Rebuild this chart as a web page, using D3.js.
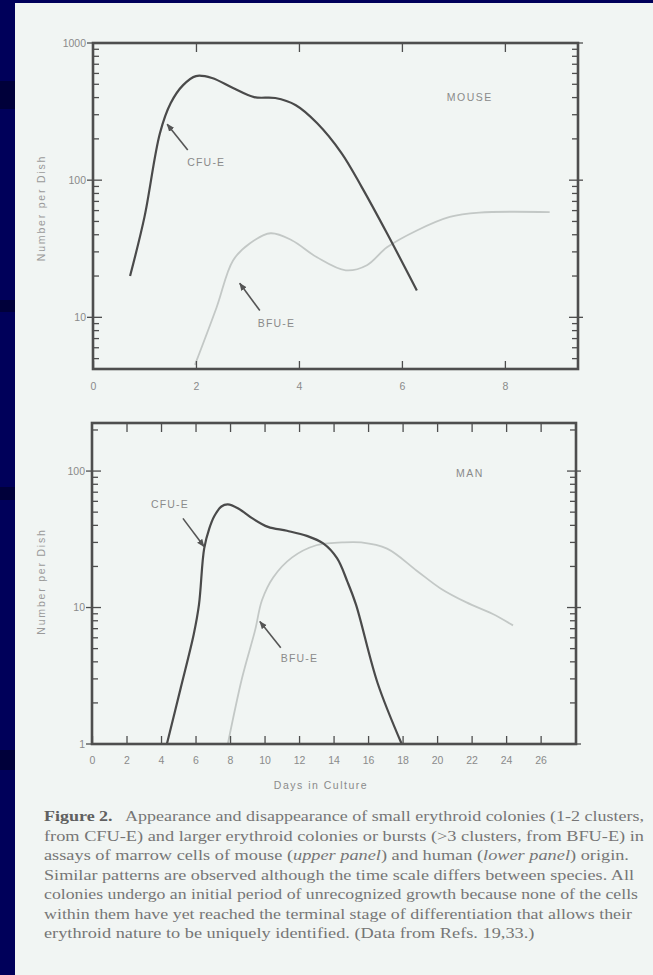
<!DOCTYPE html>
<html><head><meta charset="utf-8">
<script src="https://cdn.jsdelivr.net/npm/d3@7"></script>
<style>html,body{margin:0;padding:0;background:#00005a;}svg{display:block}</style>
</head><body>
<script>
// ---------- data ----------
const mouseXTicks = [0, 2, 4, 6, 8];
const mouseYTicks = [10, 100, 1000];
const mouseCfuDays   = [0.72, 1.0, 1.3, 1.51, 1.75, 2.0, 2.31, 2.72, 3.13, 3.54, 3.94, 4.35, 4.83, 5.22, 5.71, 6.29];
const mouseCfuValues = [20, 54, 220, 365, 493, 574, 556, 470, 403, 397, 352, 261, 157, 89, 41, 15.7];
const mouseBfuDays   = [1.98, 2.4, 2.72, 3.05, 3.45, 3.86, 4.35, 4.91, 5.32, 5.71, 6.29, 6.93, 7.5, 8.87];
const mouseBfuValues = [4.5, 11.8, 26, 34.7, 41, 36.5, 27.4, 22, 24, 32.4, 43, 54, 58, 58.5];

const manXTicks = [0, 2, 4, 6, 8, 10, 12, 14, 16, 18, 20, 22, 24, 26];
const manYTicks = [1, 10, 100];
const manCfuDays   = [4.34, 5.15, 5.9, 6.2, 6.5, 6.8, 7.1, 7.5, 7.87, 8.5, 9.3, 10.2, 11.3, 12.45, 13.4, 14.2, 14.8, 15.3, 16.55, 17.95];
const manCfuValues = [1, 2.6, 6.4, 10.5, 27, 38, 47, 55, 57, 53, 45, 39, 36.5, 33.5, 29.5, 23, 15.5, 10.5, 2.8, 1];
const manBfuDays   = [7.87, 8.7, 9.45, 9.85, 10.5, 11.6, 13.0, 14.5, 15.6, 17.1, 18.8, 20.2, 21.7, 23.2, 24.4];
const manBfuValues = [1, 3.06, 6.8, 11.3, 16.6, 23.3, 28.6, 30, 30, 27, 18.7, 13.8, 10.9, 9, 7.4];

const captionLines = [
  [["b","Figure 2."],["n","   Appearance and disappearance of small erythroid colonies (1-2 clusters,"]],
  [["n","from CFU-E) and larger erythroid colonies or bursts (>3 clusters, from BFU-E) in"]],
  [["n","assays of marrow cells of mouse ("],["i","upper panel"],["n",") and human ("],["i","lower panel"],["n",") origin."]],
  [["n","Similar patterns are observed although the time scale differs between species. All"]],
  [["n","colonies undergo an initial period of unrecognized growth because none of the cells"]],
  [["n","within them have yet reached the terminal stage of differentiation that allows their"]],
  [["n","erythroid nature to be uniquely identified. (Data from Refs. 19,33.)"]]
];
const captionWidths = [600, 600, 0, 590, 594, 588, 0];

// ---------- drawing ----------
const W = 653, H = 975;
const svg = d3.select("body").append("svg").attr("width", W).attr("height", H);
svg.append("rect").attr("width", W).attr("height", H).attr("fill", "#00005a");
[[81, 28], [300, 12], [487, 13], [750, 20]].forEach(([yy, hh]) =>
  svg.append("rect").attr("x", 0).attr("y", yy).attr("width", 15).attr("height", hh).attr("fill", "#00003a"));
svg.append("rect").attr("x", 15).attr("y", 3).attr("width", W - 15).attr("height", H - 3).attr("fill", "#f1f5f3");

const frameColor = "#4e4e4e";
const textColor = "#8a8a8a";
const sans = "'Liberation Sans', Arial, sans-serif";

svg.append("defs").append("marker").attr("id", "ah").attr("viewBox", "0 0 10 10")
  .attr("refX", 9).attr("refY", 5).attr("markerWidth", 5).attr("markerHeight", 5)
  .attr("orient", "auto").append("path").attr("d", "M0,1L10,5L0,9Z").attr("fill", "#555");

function drawPanel(cfg) {
  const x = d3.scaleLinear().domain(cfg.xDomain).range([cfg.left, cfg.right]);
  const y = d3.scaleLog().domain(cfg.yDomain).range([cfg.bottom, cfg.top]);
  const g = svg.append("g");
  const line = d3.line().x(d => x(d[0])).y(d => y(d[1])).curve(d3.curveCatmullRom.alpha(0.5));

  g.append("path").datum(d3.zip(cfg.bfuDays, cfg.bfuValues)).attr("d", line)
    .attr("fill", "none").attr("stroke", "#c3c8c6").attr("stroke-width", 1.8);
  g.append("path").datum(d3.zip(cfg.cfuDays, cfg.cfuValues)).attr("d", line)
    .attr("fill", "none").attr("stroke", "#4a4a4a").attr("stroke-width", 2.2);

  g.append("g").attr("transform", `translate(0,${cfg.bottom})`)
    .call(d3.axisBottom(x).tickValues(cfg.xTicks).tickSize(-8).tickPadding(cfg.xPad).tickFormat(d3.format("d")))
    .call(a => a.select(".domain").remove())
    .call(a => a.selectAll("line").attr("stroke", frameColor).attr("stroke-width", 1.3))
    .call(a => a.selectAll("text").attr("fill", textColor).attr("font-family", sans).attr("font-size", 10.5));
  g.append("g").attr("transform", `translate(0,${cfg.top})`)
    .call(d3.axisTop(x).tickValues(cfg.xTicks.filter(v => v > 0)).tickSize(-9).tickFormat(""))
    .call(a => a.select(".domain").remove())
    .call(a => a.selectAll("line").attr("stroke", frameColor).attr("stroke-width", 1.3));

  g.append("g").attr("transform", `translate(${cfg.left - 7},0)`)
    .call(d3.axisLeft(y).tickValues(cfg.yTicks).tickSize(0).tickPadding(0).tickFormat(d3.format("d")))
    .call(a => a.select(".domain").remove())
    .call(a => a.selectAll("text").attr("fill", textColor).attr("font-family", sans).attr("font-size", 10.5));

  const [y0, y1] = cfg.yDomain;
  const ticks = [];
  for (let d = Math.pow(10, Math.floor(Math.log10(y0))); d <= y1; d *= 10) {
    for (let k = 1; k <= 9; k++) {
      const v = k * d;
      if (v >= y0 && v <= y1 * 1.0001) ticks.push({ v, major: k === 1 });
    }
  }
  ticks.forEach(t => {
    const yy = y(t.v);
    g.append("line").attr("x1", t.major ? cfg.left - 6 : cfg.left).attr("x2", cfg.left + (t.major ? 9 : 6))
      .attr("y1", yy).attr("y2", yy).attr("stroke", frameColor).attr("stroke-width", 1.3);
    g.append("line").attr("x1", cfg.right - (t.major ? 9 : 6)).attr("x2", t.major ? cfg.right + 5 : cfg.right)
      .attr("y1", yy).attr("y2", yy).attr("stroke", frameColor).attr("stroke-width", 1.3);
  });

  g.append("rect").attr("x", cfg.left).attr("y", cfg.top).attr("width", cfg.right - cfg.left)
    .attr("height", cfg.bottom - cfg.top).attr("fill", "none").attr("stroke", frameColor).attr("stroke-width", 2.6);

  g.append("text").attr("transform", `translate(${cfg.yTitleX},${(cfg.top + cfg.bottom) / 2 + cfg.yTitleShift}) rotate(-90)`)
    .attr("text-anchor", "middle").attr("font-family", sans).attr("font-size", 10.5)
    .attr("letter-spacing", 1.8).attr("fill", "#9a9a9a").text("Number per Dish");

  g.append("text").attr("x", x(cfg.species[1])).attr("y", y(cfg.species[2])).attr("dy", "0.35em")
    .attr("text-anchor", "middle").attr("font-family", sans).attr("font-size", 10.5)
    .attr("letter-spacing", 1.5).attr("fill", textColor).text(cfg.species[0]);

  cfg.notes.forEach(n => {
    g.append("line").attr("x1", x(n.tail[0])).attr("y1", y(n.tail[1]))
      .attr("x2", x(n.tip[0])).attr("y2", y(n.tip[1]))
      .attr("stroke", "#555").attr("stroke-width", 1.6).attr("marker-end", "url(#ah)");
    g.append("text").attr("x", x(n.label[0])).attr("y", y(n.label[1])).attr("dy", "0.35em")
      .attr("text-anchor", n.anchor).attr("font-family", sans).attr("font-size", 10.5)
      .attr("letter-spacing", 1.2).attr("fill", textColor).text(n.text);
  });
}

drawPanel({
  left: 93, right: 578, top: 43, bottom: 369, xPad: 14,
  xDomain: [0, 9.42], yDomain: [4.2, 1000],
  xTicks: mouseXTicks, yTicks: mouseYTicks,
  cfuDays: mouseCfuDays, cfuValues: mouseCfuValues,
  bfuDays: mouseBfuDays, bfuValues: mouseBfuValues,
  yTitleX: 45, yTitleShift: 2,
  species: ["MOUSE", 7.32, 404],
  notes: [
    { text: "CFU-E", tip: [1.44, 256], tail: [1.84, 166], label: [1.83, 135], anchor: "start" },
    { text: "BFU-E", tip: [2.85, 17.7], tail: [3.24, 11.2], label: [3.2, 9.04], anchor: "start" }
  ]
});

drawPanel({
  left: 92, right: 576, top: 423, bottom: 744, xPad: 13,
  xDomain: [0, 28.05], yDomain: [1, 225],
  xTicks: manXTicks, yTicks: manYTicks,
  cfuDays: manCfuDays, cfuValues: manCfuValues,
  bfuDays: manBfuDays, bfuValues: manBfuValues,
  yTitleX: 45, yTitleShift: -2,
  species: ["MAN", 21.9, 96.7],
  notes: [
    { text: "CFU-E", tip: [6.49, 28], tail: [5.27, 45], label: [5.62, 57], anchor: "end" },
    { text: "BFU-E", tip: [9.73, 7.9], tail: [10.94, 5.08], label: [10.94, 4.22], anchor: "start" }
  ]
});

svg.append("text").attr("x", 321).attr("y", 789).attr("text-anchor", "middle")
  .attr("font-family", sans).attr("font-size", 10.5).attr("letter-spacing", 1.5)
  .attr("fill", textColor).text("Days in Culture");

// caption
const capX = 44;
const capNodes = captionLines.map((parts, i) => {
  const t = svg.append("text").attr("x", capX).attr("y", 821 + i * 19.5)
    .attr("font-family", "'Liberation Serif', 'Times New Roman', serif").attr("font-size", 15.5)
    .attr("fill", "#767676").attr("xml:space", "preserve").style("white-space", "pre");
  parts.forEach(([s, str]) => {
    const ts = t.append("tspan").text(str);
    if (s === "b") ts.attr("font-weight", "bold").attr("fill", "#606060");
    if (s === "i") ts.attr("font-style", "italic");
  });
  return t;
});
const naturals = capNodes.map(t => t.node().getComputedTextLength());
const stretch = captionWidths[1] / naturals[1];
capNodes.forEach((t, i) => {
  const target = captionWidths[i] || naturals[i] * stretch;
  t.attr("textLength", target).attr("lengthAdjust", "spacingAndGlyphs");
});
</script>
</body></html>
